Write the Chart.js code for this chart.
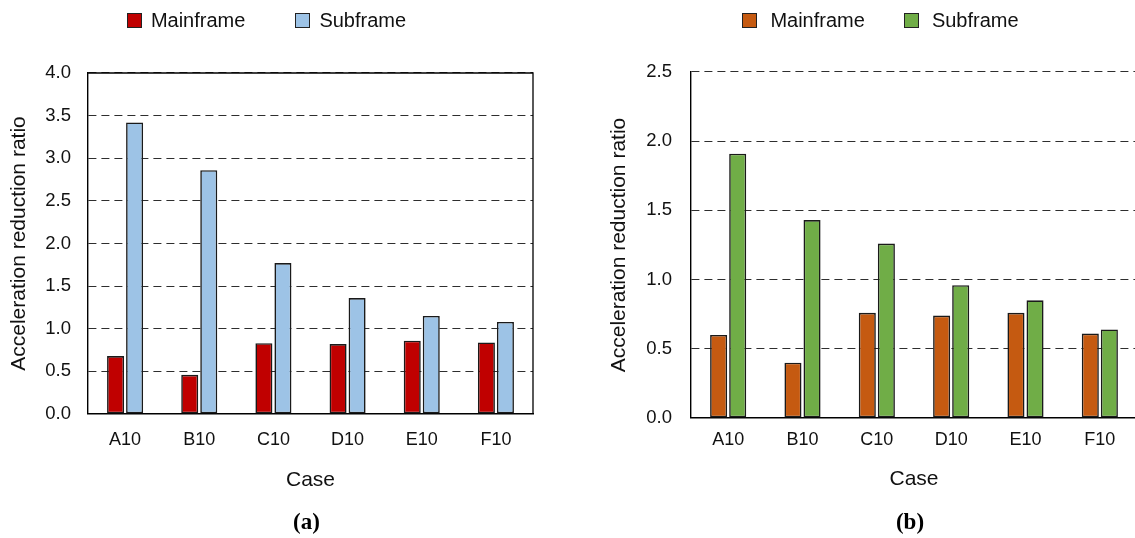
<!DOCTYPE html>
<html>
<head>
<meta charset="utf-8">
<script src="https://cdn.jsdelivr.net/npm/chart.js@4.4.0/dist/chart.umd.min.js"></script>
<style>
  html, body { margin: 0; padding: 0; background: #fff; }
  body { width: 1135px; height: 538px; overflow: hidden; position: relative;
         font-family: "Liberation Sans", Arial, sans-serif; }
  canvas { position: absolute; top: 0; }
  #chartA { left: 0; }
  #chartB { left: 602px; }
  .legend { position: absolute; top: 9px; height: 22px; display: flex;
            justify-content: center; align-items: center; color: #111; font-size: 20px; }
  .legend .item { display: flex; align-items: center; }
  .legend .swatch { width: 15px; height: 15px; box-sizing: border-box; border: 1.5px solid #222; }
</style>
</head>
<body>
<canvas id="chartA" width="545" height="538"></canvas>
<canvas id="chartB" width="547" height="538"></canvas>
<div class="legend" id="legendA" style="left:0;width:533px;"></div>
<div class="legend" id="legendB" style="left:602px;width:557px;"></div>
<script>
// Test cases on the horizontal axis
const cases = ['A10', 'B10', 'C10', 'D10', 'E10', 'F10'];
const seriesNames = ['Mainframe', 'Subframe'];

// (a) acceleration reduction ratios
const mainframeA = [0.68, 0.46, 0.83, 0.82, 0.86, 0.84];
const subframeA  = [3.42, 2.86, 1.77, 1.36, 1.15, 1.08];

// (b) acceleration reduction ratios
const mainframeB = [0.60, 0.40, 0.76, 0.74, 0.76, 0.61];
const subframeB  = [1.91, 1.43, 1.26, 0.96, 0.85, 0.64];

// value axis limits
const yMaxA = 4.0;
const yMaxB = 2.5;
const yStep = 0.5;

const FONT = '"Liberation Sans", Arial, sans-serif';
const EDGE = '#1a1a1a';

// Solid frame on the top and right sides of the plot area
const framePlugin = {
  id: 'frame',
  beforeDatasetsDraw(chart, args, opts) {
    if (!opts.show) return;
    const { ctx, chartArea: a } = chart;
    ctx.save();
    ctx.strokeStyle = '#000';
    ctx.lineWidth = 1.3;
    ctx.beginPath();
    ctx.moveTo(a.left, a.top);
    ctx.lineTo(a.right, a.top);
    ctx.lineTo(a.right, a.bottom);
    ctx.stroke();
    ctx.restore();
  }
};

// Panel caption below the axis title
const captionPlugin = {
  id: 'caption',
  afterDraw(chart, args, opts) {
    const { ctx, chartArea: a } = chart;
    ctx.save();
    ctx.font = 'bold 23px "Liberation Serif", "Times New Roman", serif';
    ctx.fillStyle = '#000';
    ctx.textAlign = 'center';
    ctx.textBaseline = 'middle';
    ctx.fillText(opts.text, (a.left + a.right) / 2 + opts.dx, opts.y);
    ctx.restore();
  }
};

function buildLegend(id, colors, boxGap, itemGap) {
  const el = document.getElementById(id);
  seriesNames.forEach((name, i) => {
    const item = document.createElement('div');
    item.className = 'item';
    if (i > 0) item.style.marginLeft = itemGap + 'px';
    const sw = document.createElement('span');
    sw.className = 'swatch';
    sw.style.background = colors[i];
    sw.style.marginRight = boxGap + 'px';
    const tx = document.createElement('span');
    tx.textContent = name;
    item.appendChild(sw);
    item.appendChild(tx);
    el.appendChild(item);
  });
}

function buildChart(id, cfg) {
  const bar = (label, data, color) => ({
    label, data,
    backgroundColor: color,
    borderColor: EDGE,
    borderWidth: 1.6,
    borderSkipped: false,
    categoryPercentage: 0.513,
    barPercentage: 0.895
  });
  return new Chart(document.getElementById(id), {
    type: 'bar',
    data: {
      labels: cases,
      datasets: [
        bar(seriesNames[0], cfg.main, cfg.colors[0]),
        bar(seriesNames[1], cfg.sub, cfg.colors[1])
      ]
    },
    options: {
      responsive: false,
      animation: false,
      devicePixelRatio: 1,
      layout: { padding: { top: cfg.top, right: 12, left: 0, bottom: 0 } },
      plugins: {
        legend: { display: false },
        tooltip: { enabled: false },
        frame: { show: cfg.frame },
        caption: { text: cfg.caption, dx: -4, y: 523 }
      },
      scales: {
        x: {
          grid: { display: false, drawTicks: false },
          border: { display: true, color: '#000', width: 1.4 },
          ticks: { color: '#111', font: { family: FONT, size: 18 }, padding: cfg.xTickPad,
                   maxRotation: 0, autoSkip: false },
          title: { display: true, text: 'Case', color: '#111',
                   font: { family: FONT, size: 21 }, padding: { top: 0, bottom: cfg.casePad } },
          afterFit: s => { s.height = cfg.xHeight; }
        },
        y: {
          min: 0, max: cfg.yMax,
          ticks: { stepSize: yStep, callback: v => Number(v).toFixed(1), color: '#111',
                   font: { family: FONT, size: 18.5 }, padding: cfg.yTickPad },
          grid: { color: '#2e2e2e', lineWidth: 1.1, drawTicks: false },
          border: { display: true, color: '#000', width: 1.4, dash: [8, 5] },
          title: { display: true, text: 'Acceleration reduction ratio', color: '#111',
                   font: { family: FONT, size: 21 }, padding: { top: cfg.titlePad, bottom: 0 } },
          afterFit: s => { s.width = cfg.yWidth; }
        }
      }
    },
    plugins: [framePlugin, captionPlugin]
  });
}

buildLegend('legendA', ['#C00000', '#9DC3E6'], 9, 50);
buildLegend('legendB', ['#C55A11', '#70AD47'], 13, 39);

buildChart('chartA', {
  main: mainframeA, sub: subframeA, colors: ['#C00000', '#9DC3E6'],
  yMax: yMaxA, top: 73, xHeight: 124, xTickPad: 15, casePad: 45,
  yTickPad: 17, yWidth: 88, titlePad: 7, frame: true, caption: '(a)'
});

buildChart('chartB', {
  main: mainframeB, sub: subframeB, colors: ['#C55A11', '#70AD47'],
  yMax: yMaxB, top: 72, xHeight: 120, xTickPad: 11, casePad: 46,
  yTickPad: 19, yWidth: 89, titlePad: 5, frame: false, caption: '(b)'
});
</script>
</body>
</html>
